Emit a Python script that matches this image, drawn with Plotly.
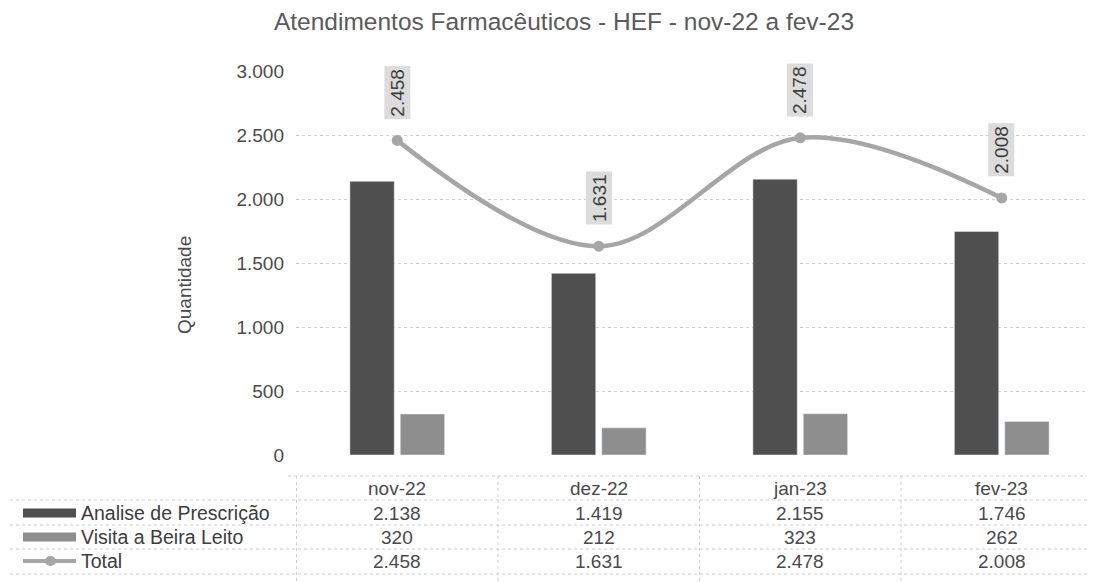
import plotly.graph_objects as go

# dados
meses = ["nov-22", "dez-22", "jan-23", "fev-23"]
analise = [2138, 1419, 2155, 1746]
visita = [320, 212, 323, 262]
total = [2458, 1631, 2478, 2008]
nomes = ["Analise de Prescrição", "Visita a Beira Leito", "Total"]
y_ticks = [0, 500, 1000, 1500, 2000, 2500, 3000]

W, H = 1095, 582
L, R, T, B = 288, 0, 63, 135

FONT = "Liberation Sans, Arial, sans-serif"
COR_ESCURA = "#4f4f4f"
COR_CLARA = "#8e8e8e"
COR_LINHA = "#a6a6a6"
COR_GRADE = "#cfcfcf"
COR_TEXTO = "#4a4a4a"


def px_x(px):
    return (px - L) / (W - L - R)


def px_y(py):
    return (H - B - py) / (H - T - B)


def fmt(v):
    return f"{v:,}".replace(",", ".")


fig = go.Figure()
fig.add_trace(go.Bar(x=meses, y=analise, name=nomes[0], marker_color=COR_ESCURA))
fig.add_trace(go.Bar(x=meses, y=visita, name=nomes[1], marker_color=COR_CLARA))
fig.add_trace(
    go.Scatter(
        x=meses,
        y=total,
        name=nomes[2],
        mode="lines+markers",
        line=dict(color=COR_LINHA, width=4.5, shape="spline", smoothing=1.0),
        marker=dict(color=COR_LINHA, size=11),
    )
)

annotations = []
shapes = []

# rotulos do total
for m, v in zip(meses, total):
    annotations.append(
        dict(
            x=m, y=v, xref="x", yref="y", text=fmt(v), textangle=-90,
            showarrow=False, yshift=48, bgcolor="#dcdcdc",
            xanchor="center", yanchor="middle",
            font=dict(size=19, color="#3c3c3c", family=FONT),
            borderpad=2,
        )
    )

# tabela de dados
linhas_y = [468, 492, 517, 541, 566]
centros_y = [480, 505, 529, 553]
for i, py in enumerate(linhas_y):
    shapes.append(
        dict(
            type="line", xref="paper", yref="paper",
            x0=px_x(280) if i == 0 else px_x(2), x1=1,
            y0=px_y(py), y1=px_y(py),
            line=dict(color=COR_GRADE, width=1, dash="dot"),
        )
    )
for k in range(len(meses) + 1):
    shapes.append(
        dict(
            type="line", xref="x", yref="paper",
            x0=k - 0.5, x1=k - 0.5, y0=px_y(468), y1=px_y(582),
            line=dict(color=COR_GRADE, width=1, dash="dot"),
        )
    )

for m in meses:
    annotations.append(
        dict(x=m, y=px_y(centros_y[0]), xref="x", yref="paper", text=m,
             xanchor="center", yanchor="middle", showarrow=False,
             font=dict(size=19, color=COR_TEXTO, family=FONT))
    )
for serie, cy in zip([analise, visita, total], centros_y[1:]):
    for m, v in zip(meses, serie):
        annotations.append(
            dict(x=m, y=px_y(cy), xref="x", yref="paper", text=fmt(v),
                 xanchor="center", yanchor="middle", showarrow=False,
                 font=dict(size=19, color=COR_TEXTO, family=FONT))
        )

# legenda dentro da tabela
for nome, cor, cy in zip(nomes, [COR_ESCURA, COR_CLARA, COR_LINHA], centros_y[1:]):
    if nome == "Total":
        shapes.append(
            dict(type="line", xref="paper", yref="paper",
                 x0=px_x(15), x1=px_x(68), y0=px_y(cy), y1=px_y(cy),
                 line=dict(color=cor, width=4))
        )
        shapes.append(
            dict(type="circle", xref="paper", yref="paper",
                 x0=px_x(37), x1=px_x(48), y0=px_y(cy - 5), y1=px_y(cy + 5),
                 fillcolor=cor, line=dict(width=0))
        )
    else:
        shapes.append(
            dict(type="rect", xref="paper", yref="paper",
                 x0=px_x(15), x1=px_x(68), y0=px_y(cy - 4.5), y1=px_y(cy + 4.5),
                 fillcolor=cor, line=dict(width=0))
        )
    annotations.append(
        dict(x=px_x(71), y=px_y(cy), xref="paper", yref="paper", text=nome,
             xanchor="left", yanchor="middle", showarrow=False,
             font=dict(size=19.5, color="#3c3c3c", family=FONT))
    )

# titulo do eixo y
annotations.append(
    dict(x=px_x(176), y=px_y(277), xref="paper", yref="paper", text="Quantidade",
         textangle=-90, xanchor="center", yanchor="middle", showarrow=False,
         font=dict(size=19, color=COR_TEXTO, family=FONT))
)

fig.update_layout(
    width=W,
    height=H,
    margin=dict(l=L, r=R, t=T, b=B),
    paper_bgcolor="white",
    plot_bgcolor="white",
    separators=",.",
    barmode="group",
    bargap=0.5,
    bargroupgap=0.12,
    showlegend=False,
    title=dict(
        text="Atendimentos Farmacêuticos - HEF - nov-22 a fev-23",
        x=556 / W, xanchor="center", y=1 - 5 / H, yanchor="top",
        font=dict(size=24.5, color="#5a5a5a", family=FONT),
    ),
    font=dict(family=FONT, color=COR_TEXTO),
    annotations=annotations,
    shapes=shapes,
)
fig.update_xaxes(showticklabels=False, showgrid=False, showline=False, ticks="")
fig.update_yaxes(
    range=[0, 3000],
    tickvals=y_ticks,
    tickformat=",d",
    showgrid=True,
    gridcolor=COR_GRADE,
    griddash="dot",
    gridwidth=1,
    zeroline=False,
    showline=False,
    ticks="",
    ticklabelstandoff=11,
    tickfont=dict(size=19, color=COR_TEXTO, family=FONT),
)

fig.write_html("out.html")
